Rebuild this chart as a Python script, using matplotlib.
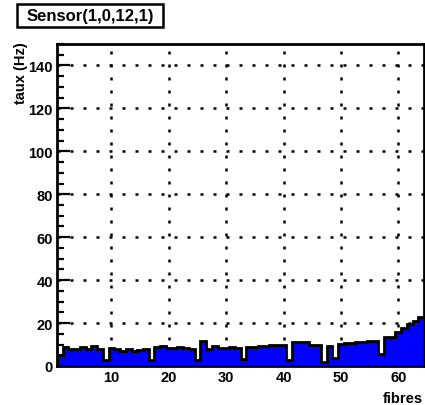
import numpy as np
import matplotlib
matplotlib.use('Agg')
import matplotlib.pyplot as plt
from matplotlib.patches import Rectangle
from matplotlib.ticker import MultipleLocator

# fibre index 1..64 and measured rate per fibre (Hz)
fibres = np.arange(1, 65)
taux = [5, 9, 8, 8, 9, 8, 9.5, 8, 3, 8.5,
        8, 7, 8, 7, 7.5, 8, 3, 9, 9.5, 8.5,
        8.5, 9, 8.5, 8, 3, 11.5, 8, 9.5, 8.5, 8.5,
        9, 8.5, 3.3, 9, 9, 9.5, 9.5, 10, 10, 10,
        3, 11, 11.3, 11, 10, 10, 2, 9.5, 3.6, 10.2,
        10.7, 10.7, 11, 11.3, 11.5, 11.8, 5.6, 13.3, 13.3, 15.7,
        17.5, 19.5, 21, 23]
title = 'Sensor(1,0,12,1)'

plt.rcParams['font.family'] = ['Liberation Sans', 'DejaVu Sans']
plt.rcParams['font.weight'] = 'bold'

W, H = 425, 406
fig = plt.figure(figsize=(W / 100, H / 100), dpi=100)
ax = fig.add_axes([57 / W, 39 / H, 367 / W, 322 / H])

edges = np.append(fibres - 0.5, fibres[-1] + 0.5)
ax.stairs(taux, edges, fill=True, color='#0000ff', zorder=2)
ax.stairs(taux, edges, color='black', linewidth=2, zorder=3)

ax.set_xlim(0.5, 64.5)
ax.set_ylim(0, 150)
ax.xaxis.set_major_locator(MultipleLocator(10))
ax.xaxis.set_minor_locator(MultipleLocator(2))
ax.yaxis.set_major_locator(MultipleLocator(20))
ax.yaxis.set_minor_locator(MultipleLocator(5))
ax.grid(True, which='major', color='black', linestyle=(0, (1.2, 4)), linewidth=1.8, zorder=1)
ax.set_axisbelow(True)

ax.tick_params(which='both', direction='in', top=False, right=False,
               width=1.6, labelsize=10.5, pad=3)
ax.tick_params(which='major', length=9)
ax.tick_params(which='minor', length=5)
for lab in ax.get_xticklabels() + ax.get_yticklabels():
    lab.set_fontweight('bold')
for s in ax.spines.values():
    s.set_linewidth(2)

# axis titles, ROOT style (placed at the ends of the axes)
fig.text(423 / W, 1 - 403 / H, 'fibres', ha='right', va='baseline', fontsize=10.5, fontweight='bold')
fig.text(21 / W, 1 - 42 / H, 'taux (Hz)', ha='center', va='top', rotation=90,
         fontsize=10.5, fontweight='bold')

# title box
fig.patches.append(Rectangle((17 / W, 1 - 28 / H), 146 / W, 23 / H, transform=fig.transFigure,
                             facecolor='white', edgecolor='black', linewidth=1.8))
fig.text(90 / W, 1 - 16.5 / H, title, ha='center', va='center', fontsize=12, fontweight='bold')

fig.savefig('out.png', dpi=100)
